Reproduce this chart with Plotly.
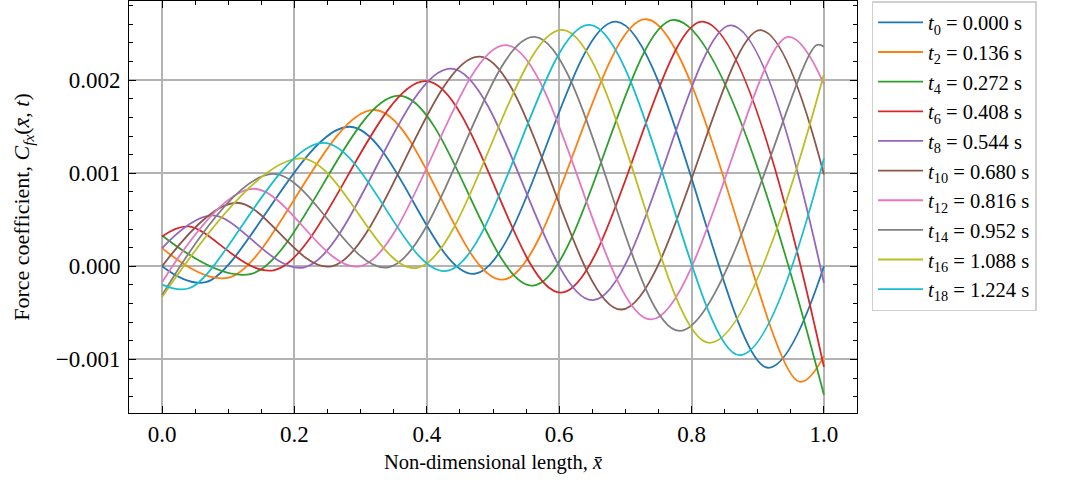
import plotly.graph_objects as go

# ---- data (extrema + end points) ----
labels = ["<i>t</i><sub>0</sub> = 0.000 s", "<i>t</i><sub>2</sub> = 0.136 s",
          "<i>t</i><sub>4</sub> = 0.272 s", "<i>t</i><sub>6</sub> = 0.408 s",
          "<i>t</i><sub>8</sub> = 0.544 s", "<i>t</i><sub>10</sub> = 0.680 s",
          "<i>t</i><sub>12</sub> = 0.816 s", "<i>t</i><sub>14</sub> = 0.952 s",
          "<i>t</i><sub>16</sub> = 1.088 s", "<i>t</i><sub>18</sub> = 1.224 s"]
colors = ["#1f77b4", "#ff7f0e", "#2ca02c", "#d62728", "#9467bd",
          "#8c564b", "#e377c2", "#7f7f7f", "#bcbd22", "#17becf"]

t0_x = [0.0, 0.066, 0.2835, 0.472, 0.686, 0.9155, 1.0]
t0_y = [0.0, -0.00017, 0.00150, -0.00008, 0.00263, -0.00109, 0.0]
t2_x = [0.0, 0.1008, 0.3213, 0.515, 0.7317, 0.963, 1.0]
t2_y = [0.000196, -0.000121, 0.00168, -0.000143, 0.002655, -0.00124, -0.000965]
t4_x = [0.0, 0.135, 0.359, 0.5605, 0.7745, 1.0]
t4_y = [0.000332, -0.00008, 0.001833, -0.000207, 0.002647, -0.00138]
t6_x = [0.0, 0.040, 0.170, 0.3994, 0.6033, 0.817, 1.0]
t6_y = [0.000321, 0.000429, -0.00004, 0.00199, -0.000282, 0.00263, -0.00108]
t8_x = [0.0, 0.0755, 0.215, 0.437, 0.651, 0.860, 1.0]
t8_y = [0.000196, 0.000547, -0.00001, 0.002125, -0.000364, 0.00259, -0.000179]
t10_x = [0.0, 0.111, 0.256, 0.48, 0.694, 0.904, 1.0]
t10_y = [0.0, 0.000683, 0.0, 0.002254, -0.000464, 0.002537, 0.000986]
t12_x = [0.0, 0.136, 0.2987, 0.520, 0.739, 0.9457, 1.0]
t12_y = [-0.00017, 0.000833, 0.0, 0.002376, -0.000571, 0.002465, 0.001958]
t14_x = [0.0, 0.166, 0.3414, 0.563, 0.782, 0.9885, 1.0]
t14_y = [-0.00031, 0.000993, -0.00001, 0.002465, -0.000693, 0.002376, 0.00236]
t16_x = [0.0, 0.209, 0.3843, 0.605, 0.8273, 1.0]
t16_y = [-0.00033, 0.00116, -0.000018, 0.00254, -0.000822, 0.002065]
t18_x = [0.0, 0.043, 0.2432, 0.4296, 0.646, 0.8727, 1.0]
t18_y = [-0.000196, -0.00023, 0.001326, -0.00005, 0.002594, -0.000954, 0.00116]

series_x = [t0_x, t2_x, t4_x, t6_x, t8_x, t10_x, t12_x, t14_x, t16_x, t18_x]
series_y = [t0_y, t2_y, t4_y, t6_y, t8_y, t10_y, t12_y, t14_y, t16_y, t18_y]

FONT = "Liberation Serif"

fig = go.Figure()
for xs, ys, lab, col in zip(series_x, series_y, labels, colors):
    fig.add_trace(go.Scatter(x=xs, y=ys, mode="lines", name=lab,
                             line=dict(color=col, width=1.8, shape="spline", smoothing=1.0)))

axis_common = dict(
    showline=True, linecolor="black", linewidth=1, mirror="allticks",
    ticks="inside", ticklen=7, tickwidth=1, tickcolor="black",
    showgrid=True, gridcolor="#b3b3b3", gridwidth=1.5, zeroline=False,
    tickfont=dict(family=FONT, size=23, color="black"),
)

fig.update_xaxes(
    range=[-0.05, 1.05], tick0=0, dtick=0.2, tickformat=".1f",
    minor=dict(dtick=0.05, ticks="inside", ticklen=4, tickcolor="black", showgrid=False),
    title=dict(text="Non-dimensional length, <i>x̄</i>", font=dict(family=FONT, size=20.5, color="black"),
               standoff=9),
    ticklabelstandoff=0,
    **axis_common,
)
fig.update_yaxes(
    range=[-0.001576, 0.002851], tick0=0, dtick=0.001, tickformat=".3f",
    minor=dict(dtick=0.0002, ticks="inside", ticklen=4, tickcolor="black", showgrid=False),
    title=dict(text="Force coefficient, <i>C</i><sub><i>fx</i></sub>(<i>x̄</i>, <i>t</i>)",
               font=dict(family=FONT, size=22, color="black"), standoff=19),
    ticklabelstandoff=3,
    **axis_common,
)

fig.update_layout(
    width=1073, height=480,
    margin=dict(l=129, r=216, t=1, b=67),
    plot_bgcolor="white", paper_bgcolor="white",
    font=dict(family=FONT, color="black"),
    legend=dict(x=1.02, y=1.0, xanchor="left", yanchor="top",
                font=dict(family=FONT, size=20.5, color="black"),
                bordercolor="#d0d0d0", borderwidth=1.5, bgcolor="white",
                itemwidth=45, tracegroupgap=0),
    showlegend=True,
)

fig.write_html("out.html")
